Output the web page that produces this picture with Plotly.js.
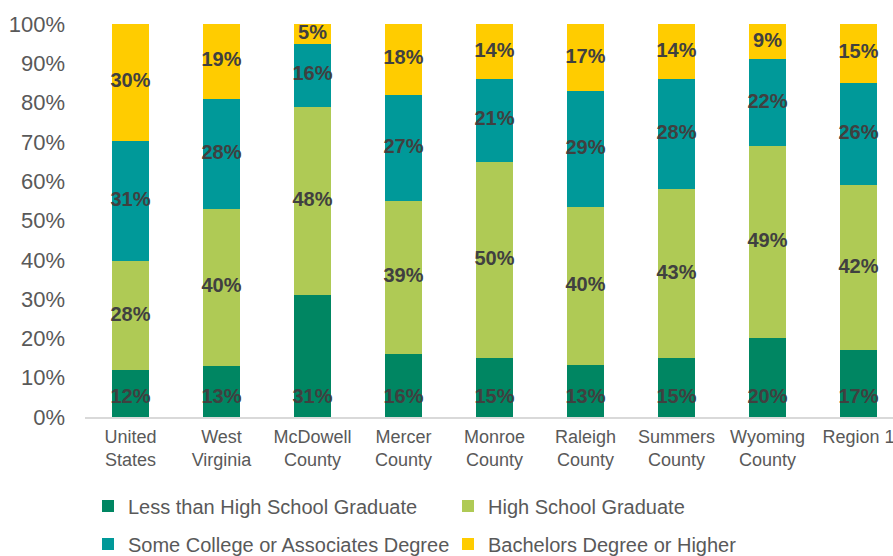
<!DOCTYPE html>
<html>
<head>
<meta charset="utf-8">
<script src="https://cdn.plot.ly/plotly-3.0.1.min.js"></script>
<style>
html,body{margin:0;padding:0;background:#fff;}
#chart{width:893px;height:556px;}
</style>
</head>
<body>
<div id="chart"></div>
<script>
var categories = ["United<br>States", "West<br>Virginia", "McDowell<br>County", "Mercer<br>County", "Monroe<br>County", "Raleigh<br>County", "Summers<br>County", "Wyoming<br>County", "Region 1"];
var seriesNames = ["Less than High School Graduate", "High School Graduate", "Some College or Associates Degree", "Bachelors Degree or Higher"];
var lessThanHS   = [12, 13, 31, 16, 15, 13, 15, 20, 17];
var hsGraduate   = [28, 40, 48, 39, 50, 40, 43, 49, 42];
var someCollege  = [31, 28, 16, 27, 21, 29, 28, 22, 26];
var bachelors    = [30, 19, 5, 18, 14, 17, 14, 9, 15];

var colors = ["#008662", "#AFCA55", "#009999", "#FFCC00"];
var seriesValues = [lessThanHS, hsGraduate, someCollege, bachelors];
var FONT = "Liberation Sans, Arial, sans-serif";

// totals for normalising to 100%
var totals = categories.map(function(c, j){
  return seriesValues.reduce(function(s, arr){ return s + arr[j]; }, 0);
});

var traces = [];
seriesValues.forEach(function(vals, i){
  traces.push({
    type: "bar",
    name: seriesNames[i],
    x: categories,
    y: vals.map(function(v, j){ return v / totals[j] * 100; }),
    textposition: "none",
    marker: {color: colors[i], line: {width: 0}},
    hoverinfo: "skip",
    legend: i < 2 ? "legend" : "legend2"
  });
});

// data labels: bottom series at inside-base, others centred in segment
var BASE_OFFSET = 4.9; // percent above axis for inside-base labels
seriesValues.forEach(function(vals, i){
  var ys = vals.map(function(v, j){
    if (i === 0) return BASE_OFFSET;
    var below = 0;
    for (var k = 0; k < i; k++) below += seriesValues[k][j];
    return (below + v / 2) / totals[j] * 100;
  });
  traces.push({
    type: "scatter",
    mode: "text",
    x: categories,
    y: ys,
    text: vals.map(function(v){ return v + "%"; }),
    textposition: "middle center",
    textfont: {family: FONT, size: 20, color: "#404040", weight: "bold"},
    cliponaxis: false,
    showlegend: false,
    hoverinfo: "skip"
  });
});

var plotLeft = 85, plotRight = 893, plotTop = 24, plotBottom = 417;
var pw = plotRight - plotLeft;

var legendCommon = {
  orientation: "h",
  font: {family: FONT, size: 20, color: "#595959"},
  itemwidth: 30,
  entrywidth: 315,
  entrywidthmode: "pixels",
  bgcolor: "rgba(0,0,0,0)",
  borderwidth: 0,
  traceorder: "normal",
  xref: "container",
  yref: "container",
  xanchor: "left",
  yanchor: "middle",
  itemclick: false,
  itemdoubleclick: false
};

var layout = {
  width: 893,
  height: 556,
  margin: {l: plotLeft, r: 893 - plotRight, t: plotTop, b: 556 - plotBottom},
  paper_bgcolor: "#fff",
  plot_bgcolor: "#fff",
  barmode: "stack",
  bargap: 0.6,
  showlegend: true,
  font: {family: FONT, color: "#595959"},
  xaxis: {
    type: "category",
    range: [-0.5, -0.5 + pw / 91],
    showgrid: false,
    zeroline: false,
    showline: true,
    linecolor: "#D9D9D9",
    linewidth: 2,
    ticks: "",
    tickfont: {family: FONT, size: 18, color: "#595959"},
    tickangle: 0,
    ticklabelstandoff: 2,
    fixedrange: true,
    automargin: false
  },
  yaxis: {
    range: [0, 100],
    tickvals: [0,10,20,30,40,50,60,70,80,90,100],
    ticktext: ["0%","10%","20%","30%","40%","50%","60%","70%","80%","90%","100%"],
    showgrid: false,
    zeroline: false,
    showline: false,
    ticks: "",
    ticklabelstandoff: 19,
    tickfont: {family: FONT, size: 22, color: "#595959"},
    fixedrange: true,
    automargin: false
  },
  legend: Object.assign({}, legendCommon, {x: 88 / 893, y: 1 - 506 / 556}),
  legend2: Object.assign({}, legendCommon, {x: 88 / 893, y: 1 - 544 / 556})
};

Plotly.newPlot("chart", traces, layout, {displayModeBar: false, staticPlot: true});
</script>
</body>
</html>
